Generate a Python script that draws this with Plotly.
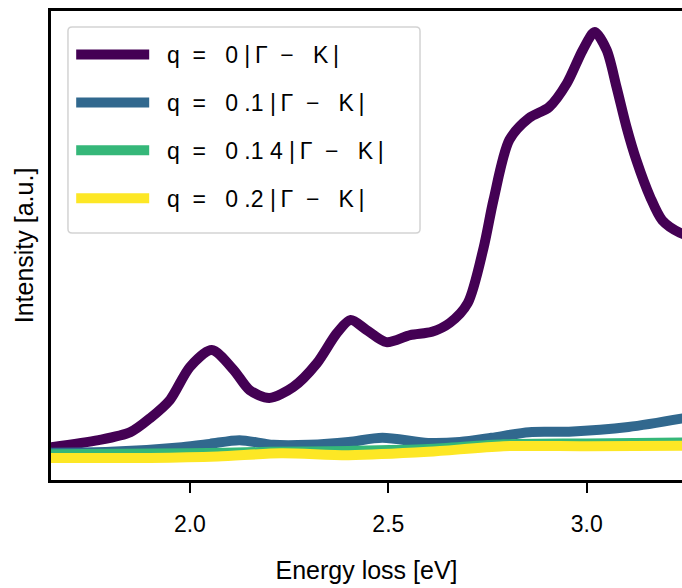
import plotly.graph_objects as go

# ---- data ----
energy_q0 = [1.65, 1.77, 1.85, 1.90, 1.95, 2.00, 2.055, 2.11, 2.15, 2.20, 2.26, 2.32, 2.37, 2.405,
             2.445, 2.495, 2.555, 2.61, 2.655, 2.70, 2.74, 2.765, 2.805, 2.855, 2.905, 2.95, 2.99,
             3.02, 3.05, 3.075, 3.10, 3.125, 3.16, 3.19, 3.235, 3.26]
intensity_q0 = [0.070, 0.085, 0.102, 0.132, 0.171, 0.241, 0.277, 0.235, 0.192, 0.175, 0.198, 0.249,
                0.313, 0.341, 0.320, 0.294, 0.309, 0.316, 0.335, 0.377, 0.495, 0.597, 0.725, 0.772,
                0.795, 0.846, 0.917, 0.955, 0.917, 0.838, 0.753, 0.682, 0.603, 0.554, 0.527, 0.520]

energy_q01 = [1.65, 1.80, 1.98, 2.05, 2.125, 2.21, 2.30, 2.40, 2.485, 2.60, 2.68, 2.76, 2.855,
              2.955, 3.105, 3.26]
intensity_q01 = [0.058, 0.060, 0.070, 0.077, 0.085, 0.075, 0.075, 0.081, 0.090, 0.079, 0.081,
                 0.090, 0.102, 0.103, 0.113, 0.134]

energy_q014 = [1.65, 2.00, 2.20, 2.40, 2.60, 2.79, 3.00, 3.26]
intensity_q014 = [0.055, 0.057, 0.060, 0.062, 0.066, 0.076, 0.078, 0.080]

energy_q02 = [1.65, 1.90, 2.07, 2.23, 2.40, 2.60, 2.79, 3.00, 3.26]
intensity_q02 = [0.047, 0.047, 0.050, 0.057, 0.053, 0.060, 0.072, 0.072, 0.073]

NB = "\u00a0"
HS = "\u2009"
series_names = [
    NB * 2 + "q" + NB * 2 + "=" + NB * 3 + "0" + NB + "|" + HS + "\u0393" + NB * 2 + "\u2212" + NB * 3 + "K" + HS + "|",
    NB * 2 + "q" + NB * 2 + "=" + NB * 3 + "0" + NB + ".1" + NB + "|" + HS + "\u0393" + NB * 2 + "\u2212" + NB * 3 + "K" + HS + "|",
    NB * 2 + "q" + NB * 2 + "=" + NB * 3 + "0" + NB + ".1" + NB + "4" + NB + "|" + HS + "\u0393" + NB * 2 + "\u2212" + NB * 3 + "K" + HS + "|",
    NB * 2 + "q" + NB * 2 + "=" + NB * 3 + "0" + NB + ".2" + NB + "|" + HS + "\u0393" + NB * 2 + "\u2212" + NB * 3 + "K" + HS + "|",
]
series_colors = ["#440154", "#31688e", "#35b779", "#fde725"]

x_ticks = [2.0, 2.5, 3.0]
x_tick_labels = ["2.0", "2.5", "3.0"]

FONT = "Liberation Sans, Arial, Helvetica, sans-serif"

fig = go.Figure()
all_x = [energy_q0, energy_q01, energy_q014, energy_q02]
all_y = [intensity_q0, intensity_q01, intensity_q014, intensity_q02]
for i, (xs, ys) in enumerate(zip(all_x, all_y)):
    fig.add_trace(go.Scatter(
        x=xs, y=ys, mode="lines", name=series_names[i],
        line=dict(color=series_colors[i], width=10, shape="spline", smoothing=0.8),
        legendgroup=f"g{i}",
    ))

# legend frame (rounded box, paper coordinates)
bx0, bx1, by0, by1 = 0.0269, 0.5848, 0.5267, 0.9659
rx, ry = 0.0065, 0.0087
frame_path = (
    f"M {bx0 + rx},{by0} L {bx1 - rx},{by0} Q {bx1},{by0} {bx1},{by0 + ry} "
    f"L {bx1},{by1 - ry} Q {bx1},{by1} {bx1 - rx},{by1} "
    f"L {bx0 + rx},{by1} Q {bx0},{by1} {bx0},{by1 - ry} "
    f"L {bx0},{by0 + ry} Q {bx0},{by0} {bx0 + rx},{by0} Z"
)
fig.add_shape(type="path", path=frame_path, xref="paper", yref="paper",
              line=dict(color="#d3d3d3", width=1.5),
              fillcolor="rgba(255,255,255,0.8)", layer="above")

fig.update_layout(
    width=682, height=588,
    margin=dict(l=51, r=0, t=11, b=108),
    paper_bgcolor="white", plot_bgcolor="white",
    font=dict(family=FONT, color="black", size=23),
    showlegend=True,
    legend=dict(
        x=0.032, y=0.953, xanchor="left", yanchor="top",
        bgcolor="rgba(0,0,0,0)", borderwidth=0,
        font=dict(family=FONT, size=23, color="black"),
        itemwidth=73, tracegroupgap=15,
    ),
    xaxis=dict(
        range=[1.65, 3.24], tickvals=x_ticks, ticktext=x_tick_labels,
        showgrid=False, zeroline=False, automargin=False,
        showline=True, linecolor="black", linewidth=2.5, mirror=True,
        ticks="outside", ticklen=10, tickwidth=2, tickcolor="black",
        tickfont=dict(size=23), ticklabelstandoff=12,
        title=dict(text="Energy loss [eV]", font=dict(size=25), standoff=26),
    ),
    yaxis=dict(
        range=[0, 1], showticklabels=False, ticks="",
        showgrid=False, zeroline=False, automargin=False,
        showline=True, linecolor="black", linewidth=2.5, mirror=False,
        title=dict(text="Intensity [a.u.]", font=dict(size=25), standoff=8),
    ),
)

fig.write_html(
    "out.html",
    config={"displayModeBar": False},
    post_script="document.body.style.margin='0';document.body.style.overflow='hidden';",
)
